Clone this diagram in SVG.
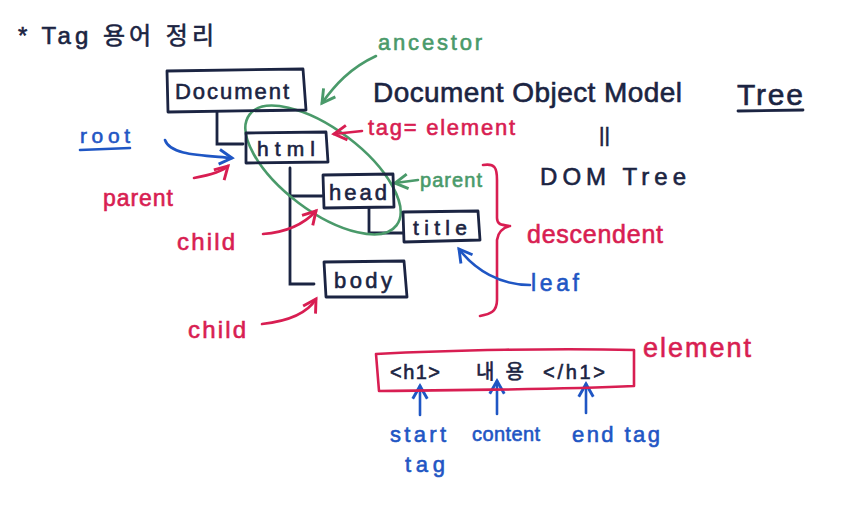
<svg xmlns="http://www.w3.org/2000/svg" width="842" height="507" viewBox="0 0 842 507">
<style>
text{font-family:"Liberation Sans","Noto Sans CJK KR",sans-serif;stroke-width:0.6}
.n{fill:#1b2442;stroke:#1b2442}
.r{fill:#d81e52;stroke:#d81e52}
.g{fill:#4a9a6a;stroke:#4a9a6a}
.b{fill:#1f56c4;stroke:#1f56c4}
.box{fill:none;stroke:#1b2442;stroke-width:2.8;stroke-linejoin:round}
.ln{fill:none;stroke:#1b2442;stroke-width:2.8;stroke-linecap:round}
.ra{fill:none;stroke:#d81e52;stroke-width:2.6;stroke-linecap:round;stroke-linejoin:round}
.ga{fill:none;stroke:#4a9a6a;stroke-width:2.6;stroke-linecap:round;stroke-linejoin:round}
.ba{fill:none;stroke:#1f56c4;stroke-width:2.6;stroke-linecap:round;stroke-linejoin:round}
</style>
<defs>
<marker id="mr" viewBox="0 0 10 10" refX="8" refY="5" markerWidth="7" markerHeight="7" orient="auto"><path d="M1,1 L8,5 L1,9" fill="none" stroke="#d81e52" stroke-width="1.6"/></marker>
<marker id="mg" viewBox="0 0 10 10" refX="8" refY="5" markerWidth="7" markerHeight="7" orient="auto"><path d="M1,1 L8,5 L1,9" fill="none" stroke="#4a9a6a" stroke-width="1.6"/></marker>
<marker id="mb" viewBox="0 0 10 10" refX="8" refY="5" markerWidth="7" markerHeight="7" orient="auto"><path d="M1,1 L8,5 L1,9" fill="none" stroke="#1f56c4" stroke-width="1.6"/></marker>
</defs>
<rect width="842" height="507" fill="#ffffff"/>

<text class="n" x="18" y="44" font-size="24" textLength="196" lengthAdjust="spacing">* Tag 용어 정리</text>

<g id="connectors">
<path class="ln" d="M217,112 L217,144 L243,144"/>
<path class="ln" d="M290,168 L290,284 L314,284"/>
<path class="ln" d="M290,196 L322,196"/>
<path class="ln" d="M369,208 L369,233 L403,233"/>
<ellipse cx="323" cy="170" rx="92" ry="41" transform="rotate(37 323 170)" fill="none" stroke="#4a9a6a" stroke-width="2.6"/>
<path class="ga" d="M376,56 C350,68 335,85 322,103" marker-end="url(#mg)"/>
<path class="ra" d="M362,131 L334,134" marker-end="url(#mr)"/>
<path class="ga" d="M418,180 L395,183" marker-end="url(#mg)"/>
<path class="ba" d="M165,140 C170,155 200,155 232,158" marker-end="url(#mb)"/>
<path class="ra" d="M194,178 C210,175 222,172 228,166" marker-end="url(#mr)"/>
<path class="ra" d="M263,234 C290,232 305,223 316,211" marker-end="url(#mr)"/>
<path class="ra" d="M262,324 C290,321 308,312 316,299" marker-end="url(#mr)"/>
<path class="ra" d="M483,165 C495,163 497,168 497,180 L497,218 C497,225 502,225 510,226 C502,228 498,232 497,240 L497,300 C497,312 490,314 480,316"/>
<path class="ba" d="M530,285 C500,285 475,270 459,249" marker-end="url(#mb)"/>
<path class="ba" d="M420,415 L420,386" marker-end="url(#mb)"/>
<path class="ba" d="M497,414 L497,381" marker-end="url(#mb)"/>
<path class="ba" d="M586,413 L586,384" marker-end="url(#mb)"/>
</g>

<g id="document">
<path class="box" d="M167,71 L303,69 L306,110 L168,112 Z"/>
<text class="n" x="175" y="99" font-size="22" textLength="114" lengthAdjust="spacing">Document</text>
</g>
<g id="html">
<path class="box" d="M246,133 L326,132 L328,162 L246,163 Z"/>
<text class="n" x="257" y="156" font-size="21" textLength="58" lengthAdjust="spacing">html</text>
</g>
<g id="head">
<path class="box" d="M323,175 L393,174 L394,207 L324,208 Z"/>
<text class="n" x="329" y="200" font-size="22" textLength="58" lengthAdjust="spacing">head</text>
</g>
<g id="title">
<path class="box" d="M403,212 L478,211 L480,240 L404,242 Z"/>
<text class="n" x="413" y="235" font-size="21" textLength="54" lengthAdjust="spacing">title</text>
</g>
<g id="body">
<path class="box" d="M324,262 L404,261 L407,297 L326,297 Z"/>
<text class="n" x="334" y="288" font-size="22" textLength="58" lengthAdjust="spacing">body</text>
</g>
<g id="element-box">
<path d="M376,354 C450,350 560,348 634,350 L634,386 C550,390 450,390 379,391 Z" fill="none" stroke="#d81e52" stroke-width="2.6" stroke-linejoin="round"/>
<text class="n" x="390" y="379" font-size="20" textLength="50" lengthAdjust="spacing">&lt;h1&gt;</text>
<text class="n" x="476" y="379" font-size="20" textLength="48" lengthAdjust="spacing">내용</text>
<text class="n" x="543" y="379" font-size="20" textLength="62" lengthAdjust="spacing">&lt;/h1&gt;</text>
</g>

<g id="labels">
<text class="g" x="378" y="50" font-size="22" textLength="104" lengthAdjust="spacing">ancestor</text>
<text class="n" x="373" y="102" font-size="28" textLength="309" lengthAdjust="spacing">Document Object Model</text>
<text class="n" x="737" y="105" font-size="30" textLength="66" lengthAdjust="spacing">Tree</text>
<path class="ln" d="M738,111 L803,110"/>
<text class="n" x="599" y="142" font-size="21">||</text>
<text class="n" x="540" y="185" font-size="24" textLength="146" lengthAdjust="spacing">DOM Tree</text>
<text class="r" x="368" y="135" font-size="22" textLength="147" lengthAdjust="spacing">tag= element</text>
<text class="g" x="420" y="187" font-size="20" textLength="62" lengthAdjust="spacing">parent</text>
<text class="r" x="527" y="243" font-size="25" textLength="136" lengthAdjust="spacing">descendent</text>
<text class="b" x="531" y="291" font-size="23" textLength="48" lengthAdjust="spacing">leaf</text>
<text class="b" x="80" y="143" font-size="21" textLength="50" lengthAdjust="spacing">root</text>
<path class="ba" d="M80,150 L130,148"/>
<text class="r" x="103" y="206" font-size="23" textLength="70" lengthAdjust="spacing">parent</text>
<text class="r" x="177" y="250" font-size="24" textLength="58" lengthAdjust="spacing">child</text>
<text class="r" x="188" y="338" font-size="24" textLength="58" lengthAdjust="spacing">child</text>
<text class="r" x="643" y="357" font-size="27" textLength="108" lengthAdjust="spacing">element</text>
<text class="b" x="390" y="442" font-size="22" textLength="56" lengthAdjust="spacing">start</text>
<text class="b" x="405" y="472" font-size="22" textLength="40" lengthAdjust="spacing">tag</text>
<text class="b" x="472" y="441" font-size="20" textLength="68" lengthAdjust="spacing">content</text>
<text class="b" x="572" y="442" font-size="22" textLength="88" lengthAdjust="spacing">end tag</text>
</g>
</svg>
